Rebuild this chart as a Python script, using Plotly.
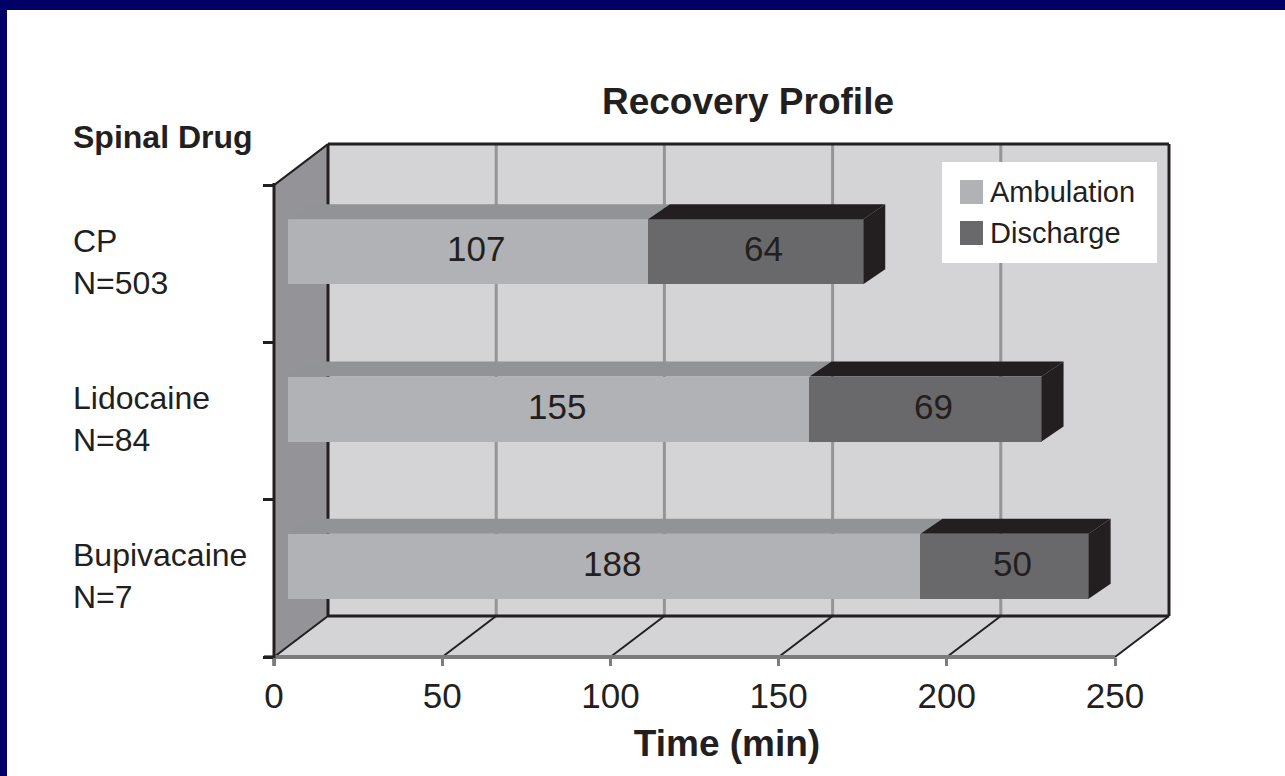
import plotly.graph_objects as go

# ---- data -------------------------------------------------------------
drugs = ["CP", "Lidocaine", "Bupivacaine"]
group_sizes = ["N=503", "N=84", "N=7"]
ambulation = [107, 155, 188]   # minutes to ambulation
discharge = [64, 69, 50]       # additional minutes to discharge
time_ticks = [0, 50, 100, 150, 200, 250]

# ---- canvas and pseudo-3D projection ---------------------------------
W, H = 1285, 776
ML, MR, MT, MB = 274, 105, 140, 119
PW, PH = W - ML - MR, H - MT - MB
XMAX = time_ticks[-1]
PX_PER_MIN = 841 / XMAX
PX_PER_CAT = 157.3
WALL_DX, WALL_DY = 54, 41            # back wall offset
BAR_DX, BAR_DY = 14, 12              # bar front face offset
FACE_DX, FACE_DY = 22, 15            # bar thickness (top / side faces)

INK = "#231f20"
WALL_SIDE = "#949498"
WALL_BACK = "#d4d4d6"
GRID = "#959597"
AMB_FRONT, AMB_TOP = "#b1b2b5", "#929397"
DIS_FRONT, DIS_DARK = "#69696b", "#231f20"
FONT = "Liberation Sans"

n = len(drugs)
pos = [n - 1 - i for i in range(n)]          # CP at top
x_span = PW / PX_PER_MIN
y_span = PH / PX_PER_CAT


def sx(v, dx=0.0):
    """time value -> paper x, with an optional pixel depth shift"""
    return (v * PX_PER_MIN + dx) / PW


def sy(c, dy=0.0):
    """category coordinate -> paper y, with an optional pixel depth shift"""
    return ((c + 0.5) * PX_PER_CAT + dy) / PH


def path(points):
    return "M " + " L ".join(f"{x:.5f},{y:.5f}" for x, y in points) + " Z"


def line(x0, y0, x1, y1, color, width, ref="paper"):
    return dict(type="line", xref=ref, yref=ref, x0=x0, y0=y0, x1=x1, y1=y1,
                line=dict(color=color, width=width), layer="below")


shapes = []
lo, hi = -0.5, n - 0.5

# left side wall
shapes.append(dict(type="path", xref="paper", yref="paper", layer="below",
                   path=path([(sx(0), sy(lo)), (sx(0), sy(hi)),
                              (sx(0, WALL_DX), sy(hi, WALL_DY)),
                              (sx(0, WALL_DX), sy(lo, WALL_DY))]),
                   fillcolor=WALL_SIDE, line=dict(width=0)))
# floor
shapes.append(dict(type="path", xref="paper", yref="paper", layer="below",
                   path=path([(sx(0), sy(lo)), (sx(XMAX), sy(lo)),
                              (sx(XMAX, WALL_DX), sy(lo, WALL_DY)),
                              (sx(0, WALL_DX), sy(lo, WALL_DY))]),
                   fillcolor=WALL_BACK, line=dict(width=0)))
# back wall
shapes.append(dict(type="rect", xref="paper", yref="paper", layer="below",
                   x0=sx(0, WALL_DX), x1=sx(XMAX, WALL_DX),
                   y0=sy(lo, WALL_DY), y1=sy(hi, WALL_DY),
                   fillcolor=WALL_BACK, line=dict(width=0)))
# vertical gridlines on the back wall
for t in time_ticks[1:-1]:
    shapes.append(line(sx(t, WALL_DX), sy(lo, WALL_DY), sx(t, WALL_DX), sy(hi, WALL_DY), GRID, 3))
# back wall border
for a, b in [((0, lo), (0, hi)), ((0, hi), (XMAX, hi)), ((XMAX, hi), (XMAX, lo)), ((XMAX, lo), (0, lo))]:
    shapes.append(line(sx(a[0], WALL_DX), sy(a[1], WALL_DY), sx(b[0], WALL_DX), sy(b[1], WALL_DY), INK, 3))
# floor tick diagonals
for t in time_ticks:
    shapes.append(line(sx(t), sy(lo), sx(t, WALL_DX), sy(lo, WALL_DY), INK, 2))
# front edge of the floor
shapes.append(line(sx(0, -10), sy(lo), sx(XMAX), sy(lo), "#7b7b7d", 4))
# left wall edges
shapes.append(line(sx(0), sy(lo, -9), sx(0), sy(hi, 2), INK, 3))
shapes.append(line(sx(0), sy(hi), sx(0, WALL_DX), sy(hi, WALL_DY), INK, 2))

# bar top and side faces (bar plane axes)
half = 65 / PX_PER_CAT / 2
fdx = FACE_DX / PX_PER_MIN
fdy = FACE_DY / PX_PER_CAT
for p, a, d in zip(pos, ambulation, discharge):
    top = p + half
    bot = p - half
    end = a + d
    shapes.append(dict(type="path", xref="x2", yref="y2", layer="above",
                       path=path([(0, top), (a, top), (a + fdx, top + fdy), (fdx, top + fdy)]),
                       fillcolor=AMB_TOP, line=dict(width=0)))
    shapes.append(dict(type="path", xref="x2", yref="y2", layer="above",
                       path=path([(a, top), (end, top), (end + fdx, top + fdy), (a + fdx, top + fdy)]),
                       fillcolor=DIS_DARK, line=dict(width=0)))
    shapes.append(dict(type="path", xref="x2", yref="y2", layer="above",
                       path=path([(end, bot), (end, top), (end + fdx, top + fdy), (end + fdx, bot + fdy)]),
                       fillcolor=DIS_DARK, line=dict(width=0)))

# legend box
LX0, LY0, LX1, LY1 = 942, 162, 1157, 263


def px_paper(px_x, px_y):
    return (px_x - ML) / PW, (H - MB - px_y) / PH


bx0, by0 = px_paper(LX0, LY1)
bx1, by1 = px_paper(LX1, LY0)
shapes.append(dict(type="rect", xref="paper", yref="paper", layer="above",
                   x0=bx0, y0=by0, x1=bx1, y1=by1, fillcolor="white", line=dict(width=0)))
legend_items = [("Ambulation", AMB_FRONT, 192), ("Discharge", DIS_FRONT, 233)]
annotations = []
for label, color, cy in legend_items:
    q0 = px_paper(960, cy + 12)
    q1 = px_paper(983, cy - 12)
    shapes.append(dict(type="rect", xref="paper", yref="paper", layer="above",
                       x0=q0[0], y0=q0[1], x1=q1[0], y1=q1[1], fillcolor=color, line=dict(width=0)))
    tx, ty = px_paper(988, cy)
    annotations.append(dict(xref="paper", yref="paper", x=tx, y=ty, text=label, showarrow=False,
                            xanchor="left", yanchor="middle", font=dict(family=FONT, size=29, color=INK)))

# navy frame along the top and left of the page
fx0, fy0 = px_paper(0, H)
fx1, fy1 = px_paper(W, 0)
_, band = px_paper(0, 10)
lx, _ = px_paper(7, 0)
shapes.append(dict(type="rect", xref="paper", yref="paper", x0=fx0, x1=fx1, y0=band, y1=fy1,
                   fillcolor="#020066", line=dict(width=0), layer="above"))
shapes.append(dict(type="rect", xref="paper", yref="paper", x0=fx0, x1=lx, y0=fy0, y1=fy1,
                   fillcolor="#020066", line=dict(width=0), layer="above"))

# category labels
lab_x, _ = px_paper(71, 0)
for p, name, size in zip(pos, drugs, group_sizes):
    annotations.append(dict(xref="paper", yref="y", x=lab_x, y=p, text=f"{name}<br>{size}",
                            showarrow=False, xanchor="left", yanchor="middle", align="left",
                            yshift=2, font=dict(family=FONT, size=32, color=INK)))
sdx, sdy = px_paper(71, 137)
annotations.append(dict(xref="paper", yref="paper", x=sdx, y=sdy, text="Spinal Drug", showarrow=False,
                        xanchor="left", yanchor="middle",
                        font=dict(family=FONT, size=32, color=INK, weight="bold")))

# value labels on the bars
for p, a, d in zip(pos, ambulation, discharge):
    annotations.append(dict(xref="x2", yref="y2", x=a / 2, y=p, text=str(a), showarrow=False,
                            xshift=8, yshift=3, font=dict(family=FONT, size=35, color=INK)))
    annotations.append(dict(xref="x2", yref="y2", x=a + d / 2, y=p, text=str(d), showarrow=False,
                            xshift=8, yshift=3, font=dict(family=FONT, size=35, color=INK)))

fig = go.Figure()
fig.add_trace(go.Bar(name="Ambulation", y=pos, x=ambulation, orientation="h",
                     xaxis="x2", yaxis="y2", width=2 * half,
                     marker=dict(color=AMB_FRONT, line=dict(width=0)), showlegend=False,
                     hovertext=drugs))
fig.add_trace(go.Bar(name="Discharge", y=pos, x=discharge, orientation="h",
                     xaxis="x2", yaxis="y2", width=2 * half,
                     marker=dict(color=DIS_FRONT, line=dict(width=0)), showlegend=False,
                     hovertext=drugs))

fig.update_layout(
    width=W, height=H,
    margin=dict(l=ML, r=MR, t=MT, b=MB, autoexpand=False),
    paper_bgcolor="white", plot_bgcolor="rgba(0,0,0,0)",
    barmode="stack", bargap=0,
    showlegend=False,
    title=dict(text="Recovery Profile", xref="container", yref="container",
               x=748 / W, y=1 - 101 / H, xanchor="center", yanchor="middle",
               font=dict(family=FONT, size=37, color=INK, weight="bold")),
    xaxis=dict(range=[0, x_span], tickvals=time_ticks, ticks="outside", ticklen=8,
               tickwidth=3, tickcolor="#7b7b7d", showgrid=False, zeroline=False, showline=False,
               tickfont=dict(family=FONT, size=35, color=INK),
               title=dict(text="Time (min)", standoff=16,
                          font=dict(family=FONT, size=37, color=INK, weight="bold"))),
    yaxis=dict(range=[-0.5, -0.5 + y_span], tickvals=[k - 0.5 for k in range(n + 1)],
               ticks="outside", ticklen=10, tickwidth=3, tickcolor=INK,
               showticklabels=False, showgrid=False, zeroline=False, showline=False),
    xaxis2=dict(overlaying="x", range=[-BAR_DX / PX_PER_MIN, x_span - BAR_DX / PX_PER_MIN],
                visible=False),
    yaxis2=dict(overlaying="y", range=[-0.5 - BAR_DY / PX_PER_CAT, -0.5 + y_span - BAR_DY / PX_PER_CAT],
                visible=False),
    shapes=shapes,
    annotations=annotations,
)

fig.write_html("out.html")
